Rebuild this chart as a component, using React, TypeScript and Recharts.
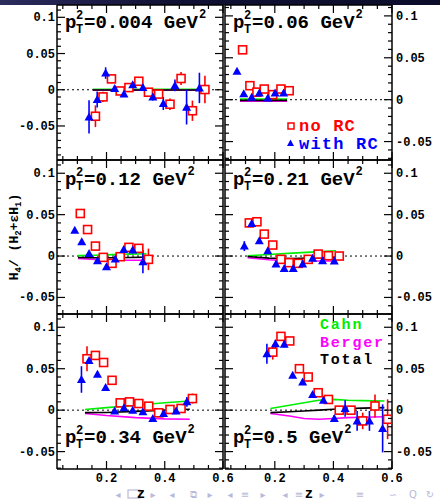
import React from "react";
import { ComposedChart, Scatter, Line, XAxis, YAxis, ReferenceLine, ErrorBar } from "recharts";

const RED = "#ff0000";
const BLUE = "#0000ff";
const GREEN = "#00ee00";
const MAGENTA = "#ff00ff";
const NAV = "#b9b9d9";
const FONT = "'Liberation Mono', 'DejaVu Sans Mono', monospace";

// axis ticks (major ones get labels)
const xTicks = [0.05, 0.1, 0.15, 0.2, 0.25, 0.3, 0.35, 0.4, 0.45, 0.5, 0.55, 0.6];
const xMajor = [0.2, 0.4, 0.6];
const yTicksWide = [-0.09, -0.08, -0.07, -0.06, -0.05, -0.04, -0.03, -0.02, -0.01, 0, 0.01, 0.02, 0.03, 0.04, 0.05, 0.06, 0.07, 0.08, 0.09, 0.1, 0.11];
const yTicks = [-0.07, -0.06, -0.05, -0.04, -0.03, -0.02, -0.01, 0, 0.01, 0.02, 0.03, 0.04, 0.05, 0.06, 0.07, 0.08, 0.09, 0.1, 0.11];

// pT^2 = 0.004
const noRc004Z = [0.162, 0.188, 0.217, 0.247, 0.277, 0.311, 0.344, 0.379, 0.418, 0.456, 0.495, 0.538];
const noRc004V = [-0.0366, -0.0099, 0.015, -0.0017, 0.003, 0.0117, -0.0034, -0.006, -0.02, 0.0155, -0.029, 0.0003];
const noRc004E = [0.015, 0.007, 0.006, 0.004, 0.004, 0.004, 0.004, 0.005, 0.008, 0.009, 0.014, 0.019];
const rc004Z = [0.14, 0.168, 0.197, 0.228, 0.26, 0.29, 0.325, 0.359, 0.395, 0.435, 0.475, 0.519];
const rc004V = [-0.0375, -0.0135, 0.023, 0.0017, -0.006, 0.007, 0.003, -0.01, -0.019, 0.006, -0.024, 0.0025];
const rc004E = [0.023, 0.011, 0.008, 0.004, 0.004, 0.004, 0.004, 0.005, 0.009, 0.008, 0.024, 0.021];
const th004Z = [0.153, 0.25, 0.35, 0.45, 0.528];
const cahn004 = [0.0006, 0.0006, 0.0006, 0.0006, 0.0006];
const berger004 = [-0.0008, -0.0008, -0.0008, -0.0008, -0.0008];
const total004 = [-0.0003, -0.0003, -0.0003, -0.0003, -0.0003];

// pT^2 = 0.06
const noRc06Z = [0.09, 0.115, 0.139, 0.164, 0.193, 0.221, 0.249];
const noRc06V = [0.0595, 0.0167, 0.009, 0.0127, 0.006, 0.0127, 0.0107];
const noRc06E = [0.002, 0.002, 0.002, 0.002, 0.002, 0.002, 0.002];
const rc06Z = [0.071, 0.094, 0.121, 0.147, 0.176, 0.201, 0.23];
const rc06V = [0.034, 0.007, 0.003, 0.008, 0.002, 0.008, 0.008];
const rc06E = [0.002, 0.002, 0.002, 0.002, 0.002, 0.002, 0.002];
const th06Z = [0.081, 0.13, 0.18, 0.242];
const cahn06 = [0.0008, 0.0008, 0.0008, 0.0008];
const berger06 = [-0.0018, -0.0018, -0.0018, -0.0018];
const total06 = [-0.0008, -0.0008, -0.0008, -0.0008];

// pT^2 = 0.12
const noRc12Z = [0.11, 0.135, 0.162, 0.189, 0.219, 0.247, 0.277, 0.311, 0.344];
const noRc12V = [0.0514, 0.032, 0.012, -0.0016, -0.0088, -0.0008, 0.0105, 0.0093, -0.004];
const noRc12E = [0.003, 0.003, 0.003, 0.003, 0.003, 0.003, 0.003, 0.004, 0.013];
const rc12Z = [0.091, 0.115, 0.14, 0.169, 0.2, 0.23, 0.259, 0.29, 0.325];
const rc12V = [0.0313, 0.0173, 0.0032, -0.0057, -0.0129, -0.0036, 0.008, 0.0072, -0.0068];
const rc12E = [0.003, 0.003, 0.003, 0.003, 0.003, 0.003, 0.003, 0.004, 0.014];
const th12Z = [0.102, 0.16, 0.22, 0.28, 0.337];
const cahn12 = [0.0005, 0.001, 0.0017, 0.0023, 0.0028];
const berger12 = [-0.003, -0.004, -0.0048, -0.005, -0.005];
const total12 = [-0.0018, -0.002, -0.002, -0.0017, -0.0013];

// pT^2 = 0.21
const noRc21Z = [0.113, 0.139, 0.164, 0.193, 0.221, 0.249, 0.28, 0.314, 0.348, 0.383, 0.42];
const noRc21V = [0.04, 0.0414, 0.0265, 0.0133, -0.004, -0.008, -0.0088, -0.004, 0.0024, 0.0004, 0];
const noRc21E = [0.004, 0.003, 0.003, 0.003, 0.003, 0.003, 0.003, 0.003, 0.003, 0.003, 0.003];
const rc21Z = [0.096, 0.121, 0.147, 0.176, 0.204, 0.232, 0.263, 0.295, 0.329, 0.363, 0.403];
const rc21V = [0.012, 0.0394, 0.0185, 0.0064, -0.0096, -0.0149, -0.0149, -0.0096, -0.0028, -0.0056, -0.006];
const rc21E = [0.006, 0.003, 0.003, 0.003, 0.003, 0.003, 0.003, 0.003, 0.003, 0.003, 0.003];
const th21Z = [0.107, 0.18, 0.26, 0.34, 0.409];
const cahn21 = [0.0003, 0.0018, 0.0035, 0.005, 0.0064];
const berger21 = [-0.002, -0.0045, -0.0058, -0.006, -0.006];
const total21 = [-0.0005, -0.0025, -0.003, -0.0022, -0.0013];

// pT^2 = 0.34
const noRc34Z = [0.133, 0.162, 0.19, 0.219, 0.247, 0.279, 0.311, 0.345, 0.379, 0.418, 0.456, 0.495];
const noRc34V = [0.062, 0.066, 0.0575, 0.036, 0.0088, 0.01, 0.008, 0.0048, -0.0032, 0.0008, 0.002, 0.014];
const noRc34E = [0.015, 0.004, 0.003, 0.003, 0.003, 0.003, 0.003, 0.003, 0.003, 0.003, 0.003, 0.006];
const rc34Z = [0.114, 0.14, 0.169, 0.197, 0.228, 0.26, 0.29, 0.325, 0.359, 0.396, 0.439, 0.476];
const rc34V = [0.037, 0.06, 0.0434, 0.0273, -0.001, 0.003, 0, -0.002, -0.01, -0.004, -0.001, 0.01];
const rc34E = [0.016, 0.004, 0.003, 0.003, 0.003, 0.003, 0.003, 0.003, 0.003, 0.003, 0.004, 0.006];
const th34Z = [0.126, 0.2, 0.3, 0.4, 0.486];
const cahn34 = [0.0008, 0.003, 0.006, 0.009, 0.011];
const berger34 = [-0.004, -0.0065, -0.009, -0.0105, -0.011];
const total34 = [-0.003, -0.0028, -0.0015, 0, 0.001];

// pT^2 = 0.5
const noRc5Z = [0.193, 0.221, 0.251, 0.284, 0.314, 0.348, 0.383, 0.42, 0.46, 0.5, 0.542, 0.585];
const noRc5V = [0.07, 0.089, 0.0835, 0.05, 0.04, 0.021, 0.0129, 0, 0, -0.013, 0.005, -0.011];
const noRc5E = [0.009, 0.004, 0.003, 0.003, 0.003, 0.003, 0.003, 0.004, 0.005, 0.01, 0.014, 0.024];
const rc5Z = [0.173, 0.202, 0.232, 0.261, 0.295, 0.329, 0.366, 0.403, 0.44, 0.481, 0.523, 0.568];
const rc5V = [0.068, 0.08, 0.0795, 0.042, 0.034, 0.019, 0.012, -0.01, 0.002, -0.013, -0.013, -0.022];
const rc5E = [0.012, 0.005, 0.004, 0.003, 0.003, 0.003, 0.003, 0.004, 0.01, 0.012, 0.012, 0.029];
const th5Z = [0.185, 0.25, 0.3, 0.35, 0.4, 0.45, 0.5, 0.574];
const cahn5 = [0.002, 0.006, 0.009, 0.012, 0.013, 0.012, 0.0115, 0.011];
const berger5 = [-0.004, -0.007, -0.01, -0.011, -0.01, -0.009, -0.0085, -0.008];
const total5 = [-0.003, -0.002, -0.001, 0, 0.001, 0.002, 0.0025, 0.003];

const pts = (z: number[], v: number[], e: number[]) => z.map((zz, i) => ({ z: zz, v: v[i], e: e[i] }));
const curve = (z: number[], c: number[], b: number[], t: number[]) =>
    z.map((zz, i) => ({ z: zz, cahn: c[i], berger: b[i], total: t[i] }));

const panels = [
    { pt: "0.004", col: 0, row: 0, yDomain: [-0.097, 0.117], yTicks: yTicksWide, noRc: pts(noRc004Z, noRc004V, noRc004E), rc: pts(rc004Z, rc004V, rc004E), th: curve(th004Z, cahn004, berger004, total004) },
    { pt: "0.06", col: 1, row: 0, yDomain: [-0.072, 0.113], yTicks: yTicks, noRc: pts(noRc06Z, noRc06V, noRc06E), rc: pts(rc06Z, rc06V, rc06E), th: curve(th06Z, cahn06, berger06, total06) },
    { pt: "0.12", col: 0, row: 1, yDomain: [-0.07, 0.116], yTicks: yTicks, noRc: pts(noRc12Z, noRc12V, noRc12E), rc: pts(rc12Z, rc12V, rc12E), th: curve(th12Z, cahn12, berger12, total12) },
    { pt: "0.21", col: 1, row: 1, yDomain: [-0.07, 0.116], yTicks: yTicks, noRc: pts(noRc21Z, noRc21V, noRc21E), rc: pts(rc21Z, rc21V, rc21E), th: curve(th21Z, cahn21, berger21, total21) },
    { pt: "0.34", col: 0, row: 2, yDomain: [-0.071, 0.116], yTicks: yTicks, noRc: pts(noRc34Z, noRc34V, noRc34E), rc: pts(rc34Z, rc34V, rc34E), th: curve(th34Z, cahn34, berger34, total34) },
    { pt: "0.5", col: 1, row: 2, yDomain: [-0.071, 0.116], yTicks: yTicks, noRc: pts(noRc5Z, noRc5V, noRc5E), rc: pts(rc5Z, rc5V, rc5E), th: curve(th5Z, cahn5, berger5, total5) },
];

// frame geometry
const COLS = [
    { left: 0, yw: 57, plotW: 166, rw: 1, titleX: 65 },
    { left: 224, yw: 1, plotW: 167, rw: 48, titleX: 233 },
];
const ROWS = [
    { top: 5, h: 155, titleY: 28 },
    { top: 160, h: 154, titleY: 185 },
    { top: 314, h: 155, titleY: 443 },
];

const isMajorY = (v: number) => Math.abs(Math.round(v * 1000)) % 50 === 0;
const isMajorX = (v: number) => xMajor.includes(v);
const fmtY = (v: number) => (Math.abs(v) < 1e-9 ? "0" : String(v));

function frameTick(side: string, labels: boolean) {
    return (props: any) => {
        const { x, y, payload } = props;
        const v = payload.value;
        const major = side === "left" || side === "right" ? isMajorY(v) : isMajorX(v);
        const len = major ? 8 : 4;
        const ls = { stroke: "#000", strokeWidth: 1.2 };
        const ts = { fontFamily: FONT, fontSize: 12, fontWeight: 700, fill: "#000" };
        if (side === "left") {
            return (
                <g>
                    <line x1={x} y1={y} x2={x + len} y2={y} {...ls} />
                    {labels && major && <text x={x - 2} y={y + 4} textAnchor="end" {...ts}>{fmtY(v)}</text>}
                </g>
            );
        }
        if (side === "right") {
            return (
                <g>
                    <line x1={x} y1={y} x2={x - len} y2={y} {...ls} />
                    {labels && major && <text x={x + 4} y={y + 4} textAnchor="start" {...ts}>{fmtY(v)}</text>}
                </g>
            );
        }
        if (side === "top") {
            return <line x1={x} y1={y} x2={x} y2={y + len} {...ls} />;
        }
        return (
            <g>
                <line x1={x} y1={y} x2={x} y2={y - len} {...ls} />
                {labels && major && <text x={x} y={y + 13} textAnchor="middle" {...ts}>{String(v)}</text>}
            </g>
        );
    };
}

const Square = (p: any) => (
    <rect x={p.cx - 4} y={p.cy - 4} width={8} height={8} fill="#fff" stroke={RED} strokeWidth={1.6} />
);
const Triangle = (p: any) => (
    <polygon points={`${p.cx},${p.cy - 4.5} ${p.cx + 4.5},${p.cy + 3.5} ${p.cx - 4.5},${p.cy + 3.5}`} fill={BLUE} />
);

function Panel({ panel }: { panel: any }) {
    const c = COLS[panel.col];
    const r = ROWS[panel.row];
    const bottomH = panel.row === 2 ? 20 : 1;
    const width = c.yw + c.plotW + c.rw;
    const height = 1 + r.h + bottomH;
    const axisLine = { stroke: "#000", strokeWidth: 1.5 };
    return (
        <div style={{ position: "absolute", left: c.left, top: r.top - 1 }}>
            <ComposedChart width={width} height={height} margin={{ top: 0, right: 0, bottom: 0, left: 0 }}>
                <XAxis xAxisId="b" orientation="bottom" type="number" dataKey="z" domain={[0.03, 0.6]} allowDataOverflow
                    ticks={xTicks} interval={0} height={bottomH} tickSize={0} tickMargin={0} tickLine={false}
                    axisLine={axisLine} tick={frameTick("bottom", panel.row === 2)} />
                <XAxis xAxisId="t" orientation="top" type="number" dataKey="z" domain={[0.03, 0.6]} allowDataOverflow
                    ticks={xTicks} interval={0} height={1} tickSize={0} tickMargin={0} tickLine={false}
                    axisLine={axisLine} tick={frameTick("top", false)} />
                <YAxis yAxisId="l" orientation="left" type="number" domain={panel.yDomain} allowDataOverflow
                    ticks={panel.yTicks} interval={0} width={c.yw} tickSize={0} tickMargin={0} tickLine={false}
                    axisLine={axisLine} tick={frameTick("left", panel.col === 0)} />
                <YAxis yAxisId="r" orientation="right" type="number" domain={panel.yDomain} allowDataOverflow
                    ticks={panel.yTicks} interval={0} width={c.rw} tickSize={0} tickMargin={0} tickLine={false}
                    axisLine={axisLine} tick={frameTick("right", panel.col === 1)} />
                <ReferenceLine xAxisId="b" yAxisId="l" y={0} stroke="#000" strokeWidth={1} strokeDasharray="2 3" />
                <Line xAxisId="b" yAxisId="l" data={panel.th} dataKey="cahn" stroke={GREEN} strokeWidth={1.6} dot={false} isAnimationActive={false} />
                <Line xAxisId="b" yAxisId="l" data={panel.th} dataKey="berger" stroke={MAGENTA} strokeWidth={1.6} dot={false} isAnimationActive={false} />
                <Line xAxisId="b" yAxisId="l" data={panel.th} dataKey="total" stroke="#000" strokeWidth={1.6} dot={false} isAnimationActive={false} />
                <Scatter xAxisId="b" yAxisId="l" data={panel.noRc} dataKey="v" shape={Square} isAnimationActive={false}>
                    <ErrorBar dataKey="e" direction="y" width={0} stroke={RED} strokeWidth={1.6} />
                </Scatter>
                <Scatter xAxisId="b" yAxisId="l" data={panel.rc} dataKey="v" shape={Triangle} isAnimationActive={false}>
                    <ErrorBar dataKey="e" direction="y" width={0} stroke={BLUE} strokeWidth={1.6} />
                </Scatter>
            </ComposedChart>
        </div>
    );
}

function Title({ x, y, val }: { x: number; y: number; val: string }) {
    const main = `=${val} GeV`;
    const t = { fontFamily: FONT, fontWeight: 700, fill: "#000" };
    return (
        <g>
            <text x={x} y={y} fontSize={19} {...t}>p</text>
            <text x={x + 11} y={y - 9} fontSize={12} {...t}>2</text>
            <text x={x + 11} y={y + 5} fontSize={12} {...t}>T</text>
            <text x={x + 19} y={y} fontSize={19} {...t}>{main}</text>
            <text x={x + 20 + main.length * 11.4} y={y - 10} fontSize={12} {...t}>2</text>
        </g>
    );
}

const navItems: [number, string][] = [
    [118, "◂"], [153, "▸"], [172, "◂"], [193, "⧉"], [210, "▸"],
    [230, "◂"], [245, "≡"], [263, "▸"], [285, "◂"], [299, "≡"], [322, "▸"],
    [360, "≡"], [393, "∽"], [413, "Q"], [430, "↻"],
];

export default function App() {
    const t = { fontFamily: FONT, fontWeight: 700 };
    return (
        <div style={{ position: "absolute", left: 0, top: 0, width: 440, height: 502, background: "#fff", overflow: "hidden" }}>
            <style>{".recharts-surface{overflow:visible}"}</style>
            <div style={{ position: "absolute", left: 0, top: 0, width: 440, height: 5, background: "linear-gradient(to right, #2c2c5e, #101034 40%, #0c0c2a)" }} />
            {panels.map((p) => (
                <Panel key={p.pt} panel={p} />
            ))}
            <svg width={440} height={502} style={{ position: "absolute", left: 0, top: 0, pointerEvents: "none" }}>
                {panels.map((p) => (
                    <Title key={p.pt} x={COLS[p.col].titleX} y={ROWS[p.row].titleY} val={p.pt} />
                ))}
                <rect x={288} y={123} width={6} height={6} fill="#fff" stroke={RED} strokeWidth={1.5} />
                <text x={299} y={131} fontSize={17} letterSpacing={1.2} fill={RED} {...t}>no RC</text>
                <polygon points="290.5,139.5 294,146 287,146" fill={BLUE} />
                <text x={299} y={148.5} fontSize={17} letterSpacing={1.2} fill={BLUE} {...t}>with RC</text>
                <text x={320} y={329} fontSize={15} letterSpacing={1.8} fill={GREEN} {...t}>Cahn</text>
                <text x={320} y={346.5} fontSize={15} letterSpacing={1.8} fill={MAGENTA} {...t}>Berger</text>
                <text x={320} y={364} fontSize={15} letterSpacing={1.8} fill="#000" {...t}>Total</text>
                <text transform="translate(18,237) rotate(-90)" textAnchor="middle" fontSize={13} fill="#000" {...t}>
                    H<tspan dy={3} fontSize={9}>4</tspan><tspan dy={-3}>/ (H</tspan><tspan dy={3} fontSize={9}>2</tspan>
                    <tspan dy={-3}>+εH</tspan><tspan dy={3} fontSize={9}>1</tspan><tspan dy={-3}>)</tspan>
                </text>
                <rect x={128} y={490} width={12} height={8} fill="none" stroke={NAV} strokeWidth={1.2} />
                {navItems.map(([x, s], i) => (
                    <text key={i} x={x} y={498} fontSize={10} fill={NAV} textAnchor="middle" fontFamily="DejaVu Sans">{s}</text>
                ))}
                <text x={141} y={498} fontSize={14} fill="#000" textAnchor="middle" {...t}>z</text>
                <text x={309} y={498} fontSize={14} fill="#000" textAnchor="middle" {...t}>z</text>
            </svg>
        </div>
    );
}
